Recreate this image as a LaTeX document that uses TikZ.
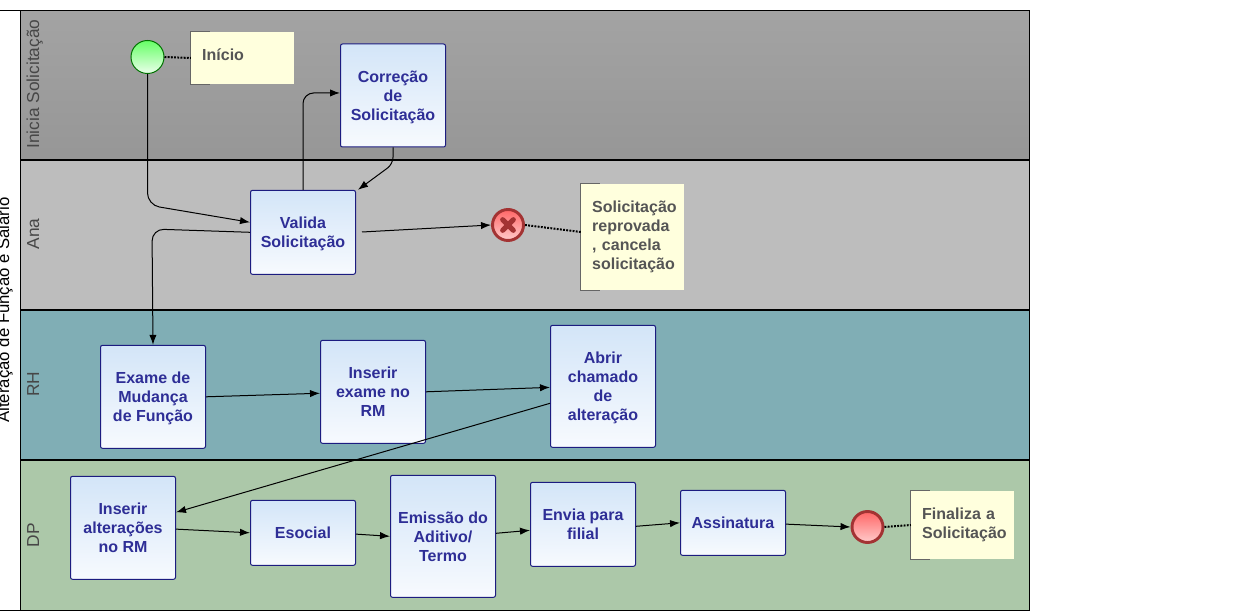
\documentclass[tikz,border=0pt]{standalone}
\usepackage{fontspec}
\setmainfont{Liberation Sans}
\usetikzlibrary{arrows.meta}
\definecolor{laneA}{HTML}{BDBDBD}
\definecolor{laneR}{HTML}{80AEB5}
\definecolor{laneD}{HTML}{ACC8A9}
\definecolor{taskline}{HTML}{1C1C80}
\definecolor{tasktext}{HTML}{2E2E96}
\definecolor{taskhi}{HTML}{D3E5F8}
\definecolor{tasklo}{HTML}{F7FAFE}
\definecolor{notefill}{HTML}{FFFFDD}
\definecolor{notetext}{HTML}{555555}
\definecolor{endred}{HTML}{A33333}
\def\px{.75pt}
\newcommand{\linestrut}{\rule[-2.9pt]{0pt}{14.4pt}}
\newcommand{\tasklines}[1]{\raisebox{-.3pt}[0pt][0pt]{\begin{tabular}[c]{@{}c@{}}#1\end{tabular}}}
\tikzset{
    task/.style={draw=taskline, line width=.75pt, rounded corners=1.5pt, top color=taskhi, bottom color=tasklo,
        text=tasktext, font=\fontsize{12}{14.25}\selectfont\bfseries, inner sep=0pt, minimum width=105*\px,
        execute at begin node=\linestrut, execute at end node=\linestrut},
    note/.style={fill=notefill, text=notetext, font=\fontsize{12}{14.25}\selectfont\bfseries, align=left,
        minimum width=103*\px, text width=81*\px, inner sep=0pt},
    notebar/.style={draw=black!60, line width=.75pt},
    startev/.style={circle, draw=green!45!black, line width=.75pt, top color=green!60!white, bottom color=green!8!white,
        minimum size=33*\px, inner sep=0pt},
    endev/.style={circle, draw=endred, line width=2.2pt, top color=red!60!white, bottom color=red!20!white,
        minimum size=31*\px, inner sep=0pt},
    flow/.style={draw=black, line width=.75pt, -{Latex[length=7.5pt,width=5.5pt]}},
    assoc/.style={draw=black, line width=1.5pt, dash pattern=on 1.4pt off 1pt},
    lanetext/.style={rotate=90, anchor=base, font=\fontsize{13}{15}\selectfont, text=black!72}
}
\begin{document}
\begin{tikzpicture}[x=.75pt, y=-.75pt]
    \useasboundingbox (0,0) rectangle (1246,616);
    % Raias
    \fill[top color=black!36, bottom color=black!41] (20,11) rectangle (1029,160);
    \fill[laneA] (20,160) rectangle (1029,310);
    \fill[laneR] (20,310) rectangle (1029,460);
    \fill[laneD] (20,460) rectangle (1029,610);
    \foreach \y in {160, 310, 460}
    {
        \draw[line width=1.5pt] (20,\y) -- (1029,\y);
    }
    \draw[line width=.75pt] (0,11) -- (1029,11) -- (1029,610) -- (0,610);
    \draw[line width=.75pt] (20,11) -- (20,610);
    % Nomes
    \node[rotate=90, anchor=base, font=\fontsize{12.55}{15}\selectfont] (pool) at (9,310) {Alteração de Função e Salário};
    \node[lanetext] (lane1) at (39,84) {Inicia Solicitação};
    \node[lanetext] (lane2) at (39,234) {Ana};
    \node[lanetext] (lane3) at (39,384) {RH};
    \node[lanetext] (lane4) at (39,535) {DP};
    % Tarefas
    \node[task, minimum height=103*\px] (correcao) at (393,95.5) {\tasklines{Correção\\de\\Solicitação}};
    \node[task, minimum height=84*\px] (valida) at (303,232.3) {\tasklines{Valida\\Solicitação}};
    \node[task, minimum height=103*\px] (exame) at (153,396.8) {\tasklines{Exame de\\Mudança\\de Função}};
    \node[task, minimum height=103*\px] (inserirexame) at (373,391.8) {\tasklines{Inserir\\exame no\\RM}};
    \node[task, minimum height=122*\px] (abrir) at (603,386.3) {\tasklines{Abrir\\chamado\\de\\alteração}};
    \node[task, minimum height=103*\px] (inseriralt) at (123,527.8) {\tasklines{Inserir\\alterações\\no RM}};
    \node[task, minimum height=65*\px] (esocial) at (303,532.8) {Esocial};
    \node[task, minimum height=122*\px] (emissao) at (443,536.3) {\tasklines{Emissão do\\Aditivo/\\Termo}};
    \node[task, minimum height=84*\px] (envia) at (583,524.3) {\tasklines{Envia para\\filial}};
    \node[task, minimum height=65*\px] (assinatura) at (733,522.8) {Assinatura};
    % Eventos
    \node[startev] (inicio) at (147.5,57) {};
    \node[endev] (erro) at (508,225) {};
    \node[endev] (fim) at (867.5,527) {};
    \draw[endred, line width=3.8pt, line cap=round] ([shift={(-4pt,-4pt)}]erro.center) -- ([shift={(4pt,4pt)}]erro.center);
    \draw[endred, line width=3.8pt, line cap=round] ([shift={(-4pt,4pt)}]erro.center) -- ([shift={(4pt,-4pt)}]erro.center);
    % Notas
    \node[note, minimum height=52*\px] (notainicio) at (242.7,58) {\raisebox{4.5pt}{Início}};
    \node[note, minimum height=106*\px] (notaerro) at (632.7,237) {Solicitação\\reprovada\\, cancela\\solicitação};
    \node[note, minimum height=68*\px] (notafim) at (962.7,525) {Finaliza a\\Solicitação};
    \foreach \n in {notainicio, notaerro, notafim}
    {
        \draw[notebar] ([xshift=14pt]\n.north west) -- (\n.north west) -- (\n.south west) -- ([xshift=14pt]\n.south west);
    }
    % Fluxos
    \coordinate (saida) at (362,232);
    \draw[flow, rounded corners=9pt] (inicio.south) -- (147.5,205) -- ([yshift=7.5pt]valida.west);
    \draw[flow, rounded corners=8pt] (valida.north) |- ([yshift=1.9pt]correcao.west);
    \draw[flow, rounded corners=5pt] (correcao.south) -- (393,164) -- ([xshift=1.5pt]valida.north east);
    \draw[flow, rounded corners=9pt] (valida.west) -- (152,229) -- (exame.north);
    \draw[flow] (saida) -- (erro.west);
    \draw[flow] (exame.east) -- ([yshift=-1.1pt]inserirexame.west);
    \draw[flow] (inserirexame.east) -- ([yshift=-.8pt]abrir.west);
    \draw[flow] ([yshift=-12.75pt]abrir.west) -- ([yshift=11.6pt]inseriralt.east);
    \draw[flow] ([yshift=-1pt]inseriralt.east) -- (esocial.west);
    \draw[flow] ([yshift=-1pt]esocial.east) -- (emissao.west);
    \draw[flow] ([yshift=2.25pt]emissao.east) -- ([yshift=-4.5pt]envia.west);
    \draw[flow] ([yshift=-1.5pt]envia.east) -- (assinatura.west);
    \draw[flow] ([yshift=-1pt]assinatura.east) -- (fim.west);
    % Associacoes
    \draw[assoc] (inicio.east) -- (notainicio.west);
    \draw[assoc] (erro.east) -- ([yshift=3.75pt]notaerro.west);
    \draw[assoc] (fim.east) -- (notafim.west);
\end{tikzpicture}
\end{document}
